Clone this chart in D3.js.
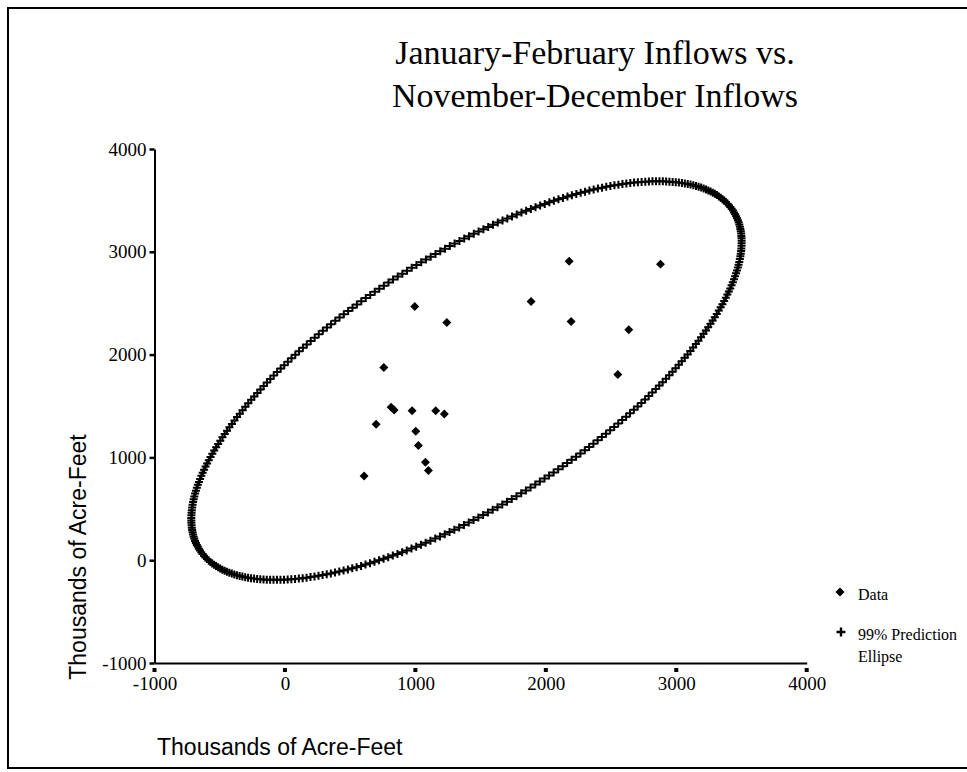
<!DOCTYPE html>
<html>
<head>
<meta charset="utf-8">
<script src="https://cdn.jsdelivr.net/npm/d3@7"></script>
<style>
  body { margin: 0; background: #fff; }
  svg { display: block; }
</style>
</head>
<body>
<div id="chart"></div>
<script>
// Nov-Dec inflows (x) and Jan-Feb inflows (y), thousands of acre-feet
let novDec = [2179, 2879, 995, 1887, 1241, 2194, 2636, 758, 2552, 814,
              837, 975, 1156, 1222, 699, 1003, 1023, 1077, 1100, 607];
let janFeb = [2909, 2880, 2468, 2516, 2312, 2322, 2241, 1874, 1806, 1489,
              1462, 1453, 1453, 1423, 1323, 1255, 1115, 953, 872, 820];
let tickValues = [-1000, 0, 1000, 2000, 3000, 4000];
let titleLines = ["January-February Inflows vs.", "November-December Inflows"];
let axisTitle = "Thousands of Acre-Feet";
let legendItems = ["Data", "99% Prediction", "Ellipse"];
let chiSq99 = 9.21;   // 99% point of chi-square, 2 df
let ellipseSteps = 360;

let w = 967, h = 772;

let viz = d3.select("#chart")
  .append("svg")
    .attr("width", w)
    .attr("height", h)
;

// frame around the page
viz.append("rect")
    .attr("x", 8).attr("y", 8)
    .attr("width", w + 10).attr("height", 760)
    .attr("fill", "none")
    .attr("stroke", "#000")
    .attr("stroke-width", 2)
;

let xScale = d3.scaleLinear().domain([-1000, 4000]).range([154.5, 806.7]);
let yScale = d3.scaleLinear().domain([-1000, 4000]).range([663, 149]);

// title
viz.selectAll(".title").data(titleLines).enter()
  .append("text")
    .attr("class", "title")
    .attr("x", 595)
    .attr("y", function(d, i){ return 64 + i * 43; })
    .attr("text-anchor", "middle")
    .attr("font-family", "'Liberation Serif', serif")
    .attr("font-size", "34px")
    .text(function(d){ return d; })
;

// axes
function plainNum(d){ return String(d); }
let xAxis = d3.axisBottom(xScale).tickValues(tickValues).tickFormat(plainNum)
    .tickSize(0).tickPadding(14);
let xAxisGroup = viz.append("g")
    .attr("class", "xaxisgroup")
    .attr("transform", "translate(0," + yScale(-1000) + ")")
    .call(xAxis)
;
let yAxis = d3.axisLeft(yScale).tickValues(tickValues).tickFormat(plainNum)
    .tickSizeInner(5).tickSizeOuter(0).tickPadding(3);
let yAxisGroup = viz.append("g")
    .attr("class", "yaxisgroup")
    .attr("transform", "translate(" + xScale(-1000) + ",0)")
    .call(yAxis)
;
viz.selectAll(".xaxisgroup path, .yaxisgroup path")
    .attr("stroke", "#000").attr("stroke-width", 2);
yAxisGroup.selectAll(".tick line").attr("stroke-width", 2.5);
viz.selectAll(".xaxisgroup text, .yaxisgroup text")
    .attr("font-family", "'Liberation Serif', serif")
    .attr("font-size", "19px")
    .attr("fill", "#000")
;
// little square marks under the x axis
xAxisGroup.selectAll(".xmark").data(tickValues).enter()
  .append("rect")
    .attr("class", "xmark")
    .attr("x", function(d){ return xScale(d) - 2; })
    .attr("y", 5)
    .attr("width", 4).attr("height", 4)
    .attr("fill", "#000")
;

// axis titles
viz.append("text")
    .attr("x", 157).attr("y", 755)
    .attr("font-family", "'Liberation Sans', Arial, sans-serif")
    .attr("font-size", "23px")
    .text(axisTitle)
;
viz.append("text")
    .attr("transform", "translate(86,557) rotate(-90)")
    .attr("text-anchor", "middle")
    .attr("font-family", "'Liberation Sans', Arial, sans-serif")
    .attr("font-size", "23px")
    .text(axisTitle)
;

// prediction ellipse from the data (mean, covariance, chi-square 99%)
let n = novDec.length;
let mx = d3.mean(novDec), my = d3.mean(janFeb);
let sxx = 0, syy = 0, sxy = 0;
for (let i = 0; i < n; i++) {
  sxx += (novDec[i] - mx) * (novDec[i] - mx);
  syy += (janFeb[i] - my) * (janFeb[i] - my);
  sxy += (novDec[i] - mx) * (janFeb[i] - my);
}
sxx /= n; syy /= n; sxy /= n;
let tr = sxx + syy, det = sxx * syy - sxy * sxy;
let disc = Math.sqrt(tr * tr / 4 - det);
let l1 = tr / 2 + disc, l2 = tr / 2 - disc;
let ang = Math.atan2(l1 - sxx, sxy);
let a = Math.sqrt(chiSq99 * l1), b = Math.sqrt(chiSq99 * l2);
let ellipseData = d3.range(ellipseSteps).map(function(k){
  let t = 2 * Math.PI * k / ellipseSteps;
  let u = a * Math.cos(t), v = b * Math.sin(t);
  return {
    x: mx + u * Math.cos(ang) - v * Math.sin(ang),
    y: my + u * Math.sin(ang) + v * Math.cos(ang)
  };
});

let plusPath = "M-4,0H4M0,-4V4";
viz.append("g").attr("class", "ellipse")
  .selectAll("path").data(ellipseData).enter()
  .append("path")
    .attr("d", plusPath)
    .attr("transform", function(d){
      return "translate(" + xScale(d.x) + "," + yScale(d.y) + ")";
    })
    .attr("stroke", "#000")
    .attr("stroke-width", 2)
    .attr("fill", "none")
;

// data points
let points = novDec.map(function(d, i){ return { x: d, y: janFeb[i] }; });
let diamond = d3.symbol().type(d3.symbolSquare).size(40);
viz.append("g").attr("class", "graphgroup")
  .selectAll(".datapoint").data(points).enter()
  .append("path")
    .attr("class", "datapoint")
    .attr("d", diamond)
    .attr("transform", function(d){
      return "translate(" + xScale(d.x) + "," + yScale(d.y) + ") rotate(45)";
    })
    .attr("fill", "#000")
;

// legend
let legend = viz.append("g").attr("class", "legend");
legend.append("path")
    .attr("d", diamond)
    .attr("transform", "translate(840,592) rotate(45)")
    .attr("fill", "#000");
legend.append("path")
    .attr("d", "M-4.5,0H4.5M0,-4.5V4.5")
    .attr("transform", "translate(841,632)")
    .attr("stroke", "#000")
    .attr("stroke-width", 2.4);
legend.selectAll("text").data(legendItems).enter()
  .append("text")
    .attr("x", 858)
    .attr("y", function(d, i){ return [600, 640, 662][i]; })
    .attr("font-family", "'Liberation Serif', serif")
    .attr("font-size", "16px")
    .text(function(d){ return d; })
;
</script>
</body>
</html>
